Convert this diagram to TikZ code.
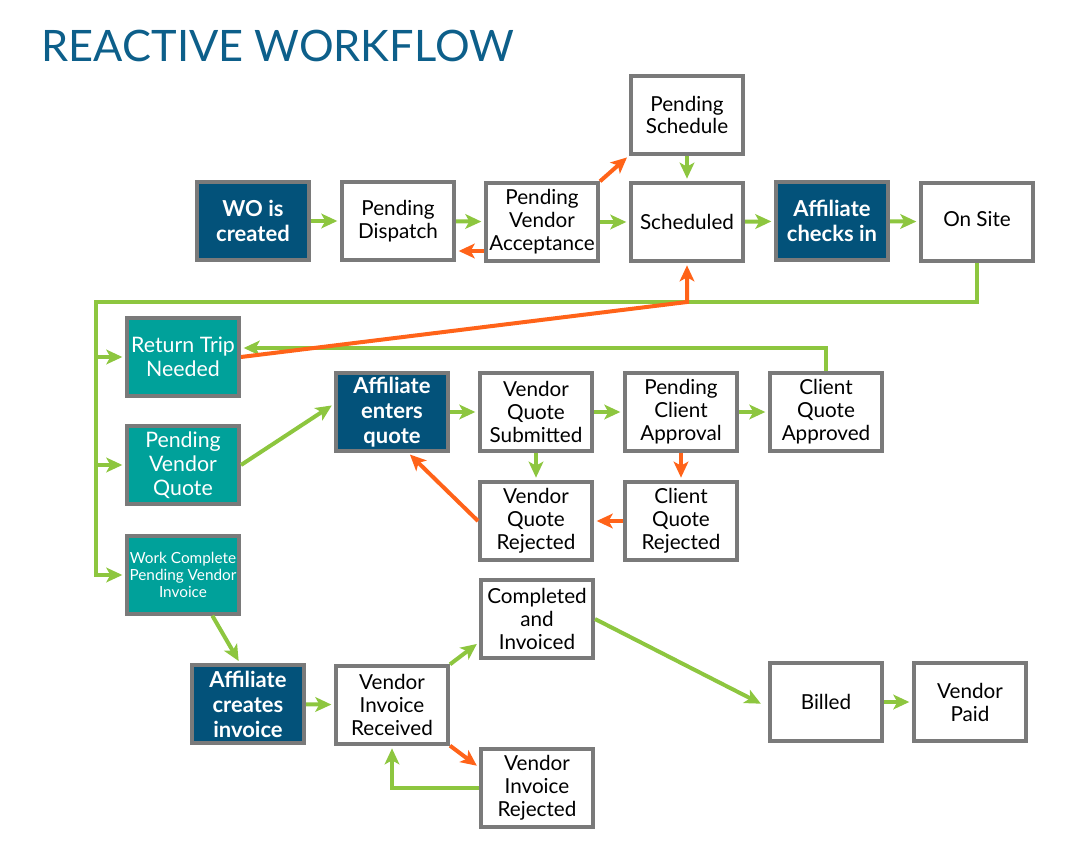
\documentclass[tikz,border=0pt]{standalone}
\usepackage{fontspec}
\setmainfont{Lato}
\usepackage{tikz}
\usetikzlibrary{arrows.meta}

\definecolor{wfblue}{HTML}{03527A}
\definecolor{wfteal}{HTML}{00A19A}
\definecolor{wfgreen}{HTML}{8DC63F}
\definecolor{wforange}{HTML}{FF6319}
\definecolor{wfgray}{HTML}{7A7A7A}
\definecolor{wftitle}{HTML}{0D5F8A}

\begin{document}
\begin{tikzpicture}[x=0.75pt,y=-0.75pt]
        \tikzstyle{state}=[draw=wfgray,line width=3pt,fill=white,
            minimum width=84pt,minimum height=58pt,inner sep=1pt,align=center,
            font=\fontsize{15.5}{17.2}\selectfont]
        \tikzstyle{action}=[state,fill=wfblue,text=white,
            font=\fontsize{16.5}{18.8}\selectfont\bfseries]
        \tikzstyle{status}=[state,fill=wfteal,text=white,
            font=\fontsize{16}{17.8}\selectfont]
        \tikzstyle{flow}=[draw=wfgreen,line width=3pt,
            -{Stealth[length=12pt,width=11pt,inset=3pt]},shorten >=2pt]
        \tikzstyle{reject}=[flow,draw=wforange]
            \useasboundingbox (0,0) rectangle (1092,859);

            \node[anchor=base west,text=wftitle,font=\fontsize{32.5}{36}\selectfont]
                (title) at (37,62) {REACTIVE WORKFLOW};

            % top row
            \node[action] (wo) at (253,221) {WO is\\created};
            \node[state] (pdisp) at (398,221) {Pending\\Dispatch};
            \node[state] (pva) at (542,222) {Pending\\Vendor\\Acceptance};
            \node[state] (psched) at (687,115) {Pending\\Schedule};
            \node[state] (sched) at (687,222) {Scheduled};
            \node[action] (chkin) at (832,221) {Affiliate\\checks in};
            \node[state] (onsite) at (977,222) {\raisebox{4pt}{On Site}};

            % left column
            \node[status] (rtn) at (183,357) {Return Trip\\Needed};
            \node[status] (pvq) at (183,465) {Pending\\Vendor\\Quote};
            \node[status,font=\fontsize{11.5}{13}\selectfont]
                (wcp) at (183,575) {Work Complete\\Pending Vendor\\Invoice};

            % quote loop
            \node[action] (aeq) at (392,412) {Affiliate\\enters\\quote};
            \node[state] (vqs) at (536,412) {Vendor\\Quote\\Submitted};
            \node[state] (pca) at (681,412) {Pending\\Client\\Approval};
            \node[state] (cqa) at (826,412) {Client\\Quote\\Approved};
            \node[state] (vqr) at (536,521) {Vendor\\Quote\\Rejected};
            \node[state] (cqr) at (681,521) {Client\\Quote\\Rejected};

            % invoicing
            \node[state] (cai) at (537,619) {Completed\\and\\Invoiced};
            \node[action] (aci) at (248,704) {Affiliate\\creates\\invoice};
            \node[state] (vir) at (392,705) {Vendor\\Invoice\\Received};
            \node[state] (vrej) at (537,788) {Vendor\\Invoice\\Rejected};
            \node[state] (billed) at (826,702) {Billed};
            \node[state] (vpaid) at (970,702) {Vendor\\Paid};

            \coordinate (bus) at (96,302);

            \draw[flow] (wo) -- (pdisp);
            \draw[flow] (pdisp) -- (pva);
            \draw[reject] (pva.west |- 0,251) -- (pdisp.east |- 0,251);
            \draw[reject] (pva.north east) -- (psched.south west);
            \draw[flow] (psched) -- (sched);
            \draw[flow] (pva) -- (sched);
            \draw[flow] (sched) -- (chkin);
            \draw[flow] (chkin) -- (onsite);

            \draw[flow] (onsite.south) |- (bus) |- (wcp.west);
            \draw[flow] (bus |- rtn.west) -- (rtn.west);
            \draw[flow] (bus |- pvq.west) -- (pvq.west);
            \draw[flow] (cqa.north) |- (rtn.east |- 0,348);
            \draw[reject] (rtn.east) -- (sched.south |- bus) -- (sched.south);

            \draw[flow] (pvq.east) -- ([yshift=6pt]aeq.west);
            \draw[flow] (aeq) -- (vqs);
            \draw[flow] (vqs) -- (pca);
            \draw[flow] (pca) -- (cqa);
            \draw[flow] (vqs) -- (vqr);
            \draw[reject] (pca) -- (cqr);
            \draw[reject] (cqr) -- (vqr);
            \draw[reject] (vqr.west) -- ([xshift=12pt]aeq.south);

            \draw[flow] ([xshift=22pt]wcp.south) -- ([xshift=-6pt]aci.north);
            \draw[flow] (aci) -- (vir);
            \draw[flow] (vir.north east) -- ([yshift=13pt]cai.south west);
            \draw[reject] (vir.south east) -- ([yshift=-15pt]vrej.north west);
            \draw[flow] (vrej.west) -| (vir.south);
            \draw[flow,shorten >=6pt] (cai.east) -- ([yshift=-4pt]billed.west);
            \draw[flow] (billed) -- (vpaid);
        \end{tikzpicture}
\end{document}
